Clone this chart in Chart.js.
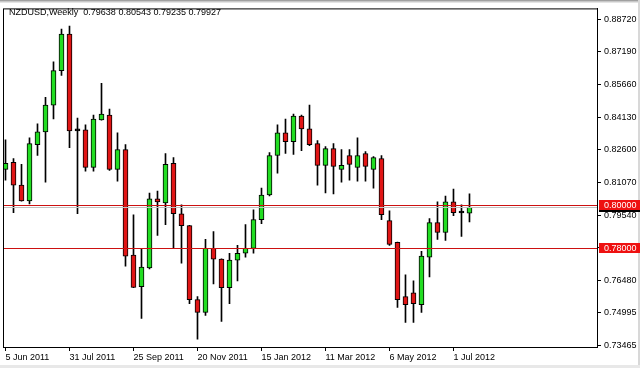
<!DOCTYPE html>
<html>
<head>
<meta charset="utf-8">
<script src="https://cdn.jsdelivr.net/npm/chart.js@4/dist/chart.umd.min.js"></script>
<style>
  html, body { margin: 0; padding: 0; background: #ffffff; }
  #wrap { width: 640px; height: 368px; position: relative; }
  canvas { display: block; }
</style>
</head>
<body>
<div id="wrap"><canvas id="c" width="640" height="368"></canvas></div>
<script>
// ---- data (weekly NZDUSD candles, first week = 5 Jun 2011) ----
const symbolTitle = 'NZDUSD,Weekly';
const openP  = [0.81694,0.82017,0.80954,0.80214,0.82849,0.83450,0.84698,0.86316,0.88027,0.83496,
                0.83543,0.81786,0.84005,0.84236,0.81694,0.82618,0.77672,0.76193,0.77071,0.80307,
                0.80122,0.81971,0.79613,0.79059,0.75592,0.74991,0.77995,0.77487,0.76146,0.77441,
                0.77764,0.77995,0.79336,0.80492,0.82341,0.83404,0.82988,0.84190,0.83589,0.82895,
                0.81878,0.82664,0.81694,0.82341,0.81786,0.82433,0.81694,0.82202,0.79290,0.78273,
                0.75730,0.75915,0.75360,0.77579,0.79197,0.78735,0.80168,0.79650,0.79638];
const highP  = [0.83080,0.82202,0.81925,0.83173,0.83820,0.85068,0.86732,0.88258,0.88396,0.84097,
                0.83774,0.84236,0.85715,0.84513,0.83404,0.82849,0.79567,0.77995,0.80584,0.80677,
                0.82433,0.82248,0.80029,0.79070,0.75730,0.78411,0.78781,0.77500,0.77764,0.78134,
                0.79105,0.79798,0.80815,0.82479,0.83774,0.84051,0.84282,0.84236,0.84698,0.83034,
                0.82757,0.82895,0.82618,0.82618,0.83173,0.82526,0.82294,0.82341,0.79752,0.78290,
                0.76747,0.76470,0.77857,0.79382,0.80168,0.80445,0.80769,0.80029,0.80543];
const lowP   = [0.81185,0.79660,0.80200,0.80076,0.82341,0.81093,0.84051,0.86085,0.82711,0.79613,
                0.81601,0.81601,0.83990,0.81647,0.81139,0.77163,0.76146,0.74713,0.77025,0.78596,
                0.79105,0.77995,0.77302,0.75407,0.73742,0.74852,0.76331,0.74575,0.75407,0.76470,
                0.77579,0.77764,0.79151,0.80445,0.81509,0.82433,0.82387,0.82572,0.82803,0.80954,
                0.80584,0.80538,0.81093,0.81185,0.81139,0.81139,0.80815,0.79336,0.78134,0.75222,
                0.74528,0.74528,0.74991,0.76655,0.78411,0.78365,0.79521,0.78550,0.79235];
const closeP = [0.81971,0.80954,0.80214,0.82895,0.83450,0.84698,0.86316,0.88027,0.83496,0.83496,
                0.81786,0.84051,0.84282,0.81694,0.82618,0.77626,0.76160,0.77117,0.80307,0.80168,
                0.81925,0.79613,0.79059,0.75592,0.74991,0.77995,0.77487,0.76146,0.77441,0.77764,
                0.77995,0.79336,0.80492,0.82341,0.83404,0.82988,0.84190,0.83589,0.82849,0.81878,
                0.82664,0.81832,0.81878,0.81925,0.82341,0.81832,0.82248,0.79567,0.78180,0.75592,
                0.75360,0.75407,0.77626,0.79197,0.78735,0.80168,0.79660,0.79650,0.79927];
const xTickIndex  = [0, 8, 16, 24, 32, 40, 48, 56];
const xTickLabels = ['5 Jun 2011','31 Jul 2011','25 Sep 2011','20 Nov 2011','15 Jan 2012','11 Mar 2012','6 May 2012','1 Jul 2012'];
const yTickValues = [0.88720,0.87190,0.85660,0.84130,0.82600,0.81070,0.79540,0.78010,0.76480,0.74995,0.73465];
const levelLines  = [0.80000, 0.78000];
const bidPrice    = 0.79927;

// ---- styles ----
const GREEN = '#22dd22', RED = '#e01515', DOJI = '#000000';
const FONT = '"Liberation Sans", Arial, sans-serif';

const n = openP.length;
const idx = openP.map((_, i) => i);
const bodies = idx.map(i => ({ x: i, y: [openP[i], closeP[i]] }));
const wicks  = idx.map(i => ({ x: i, y: [lowP[i], highP[i]] }));
const bodyColors = idx.map(i => closeP[i] > openP[i] ? GREEN : (closeP[i] < openP[i] ? RED : DOJI));

const decor = {
  id: 'decor',
  beforeDraw(chart) {
    const ctx = chart.ctx;
    ctx.save();
    ctx.fillStyle = '#ffffff';
    ctx.fillRect(0, 0, 640, 368);
    ctx.fillStyle = '#a0a0a0'; ctx.fillRect(0, 0, 640, 1);
    ctx.fillStyle = '#c8c8c8'; ctx.fillRect(0, 1, 640, 1);
    ctx.fillStyle = '#e4e4e4'; ctx.fillRect(0, 2, 640, 1);
    ctx.fillStyle = '#d8d8d8'; ctx.fillRect(638, 0, 2, 368);
    ctx.fillStyle = '#e8e8e8'; ctx.fillRect(0, 365, 640, 3);
    ctx.restore();
  },
  afterDatasetsDraw(chart) {
    const ctx = chart.ctx, a = chart.chartArea, ys = chart.scales.y;
    ctx.save();
    // bid line
    let yb = Math.round(ys.getPixelForValue(bidPrice)) + 0.5;
    ctx.strokeStyle = '#c0c0c0'; ctx.lineWidth = 1;
    ctx.beginPath(); ctx.moveTo(a.left, yb); ctx.lineTo(a.right, yb); ctx.stroke();
    // level lines
    ctx.strokeStyle = '#cc1111';
    levelLines.forEach(v => {
      const y = Math.round(ys.getPixelForValue(v)) + 0.5;
      ctx.beginPath(); ctx.moveTo(a.left, y); ctx.lineTo(a.right, y); ctx.stroke();
    });
    // frame
    ctx.strokeStyle = '#000000';
    ctx.strokeRect(a.left + 0.5, a.top + 0.5, a.right - a.left, a.bottom - a.top);
    ctx.restore();
  },
  afterDraw(chart) {
    const ctx = chart.ctx, a = chart.chartArea, ys = chart.scales.y;
    ctx.save();
    ctx.font = '9px ' + FONT;
    ctx.textBaseline = 'middle';
    ctx.textAlign = 'left';
    // header
    ctx.fillStyle = '#000000';
    const last = n - 1;
    ctx.fillText(symbolTitle + '  ' + openP[last].toFixed(5) + ' ' + highP[last].toFixed(5) + ' ' +
                 lowP[last].toFixed(5) + ' ' + closeP[last].toFixed(5), 9, 13);
    // bid label (black)
    const yb = Math.round(ys.getPixelForValue(bidPrice));
    ctx.fillStyle = '#000000';
    ctx.fillRect(a.right + 2, yb - 5, 640 - a.right - 2, 10);
    ctx.fillStyle = '#ffffff';
    ctx.fillText(bidPrice.toFixed(5), a.right + 7, yb);
    // level labels (red)
    levelLines.forEach(v => {
      const y = Math.round(ys.getPixelForValue(v));
      ctx.fillStyle = '#ee1111';
      ctx.fillRect(a.right + 2, y - 5, 640 - a.right - 2, 10);
      ctx.fillStyle = '#ffffff';
      ctx.fillText(v.toFixed(5), a.right + 7, y + 0.5);
    });
    ctx.restore();
  }
};

new Chart(document.getElementById('c'), {
  type: 'bar',
  data: {
    datasets: [
      {
        label: 'body',
        data: bodies,
        backgroundColor: bodyColors,
        borderColor: '#000000',
        borderWidth: 1,
        borderSkipped: false,
        barThickness: 5,
        minBarLength: 2,
        grouped: false
      },
      {
        label: 'wick',
        data: wicks,
        backgroundColor: '#000000',
        borderWidth: 0,
        barThickness: 1,
        grouped: false
      }
    ]
  },
  plugins: [decor],
  options: {
    responsive: false,
    animation: false,
    events: [],
    layout: { padding: { left: 3, top: 4, right: 0, bottom: 0 } },
    plugins: { legend: { display: false }, tooltip: { enabled: false }, title: { display: false } },
    scales: {
      x: {
        type: 'linear',
        min: -0.3125,
        max: 73.94,
        offset: false,
        grid: { offset: false, drawOnChartArea: false, drawTicks: true, tickLength: 4, color: '#000000' },
        border: { display: true, color: '#000000' },
        afterBuildTicks: s => { s.ticks = xTickIndex.map(v => ({ value: v })); },
        afterFit: s => { s.height = 21; },
        ticks: {
          autoSkip: false, maxRotation: 0, minRotation: 0, align: 'start', padding: 1,
          color: '#000000', font: { family: FONT, size: 9 },
          callback: (v, i) => xTickLabels[i]
        }
      },
      y: {
        type: 'linear',
        position: 'right',
        min: 0.73373,
        max: 0.89229,
        grid: { drawOnChartArea: false, drawTicks: true, tickLength: 4, color: '#000000' },
        border: { display: true, color: '#000000' },
        afterBuildTicks: s => { s.ticks = yTickValues.map(v => ({ value: v })); },
        afterFit: s => { s.width = 43; },
        ticks: {
          autoSkip: false, padding: 3, color: '#000000', font: { family: FONT, size: 9 },
          callback: v => Number(v).toFixed(5)
        }
      }
    }
  }
});
</script>
</body>
</html>
